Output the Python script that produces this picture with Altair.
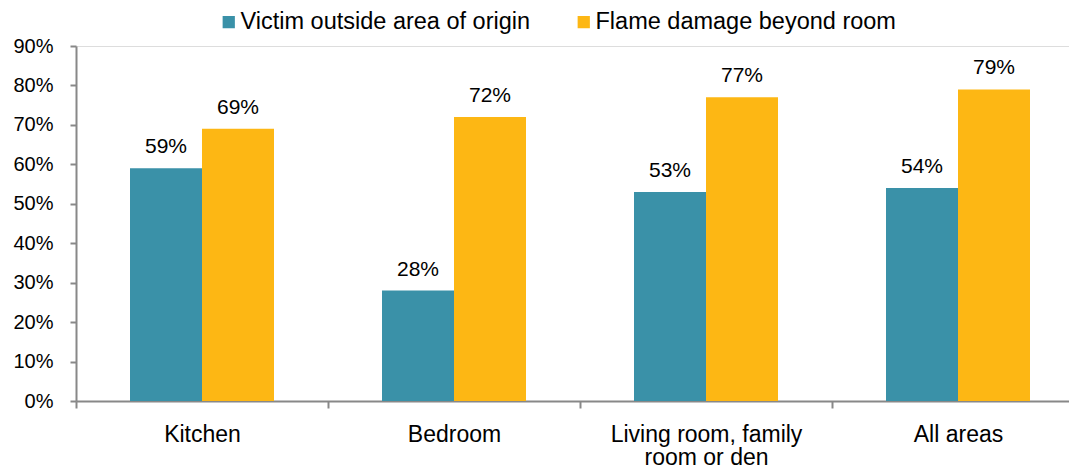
import altair as alt
import pandas as pd

categories = ["Kitchen", "Bedroom", "Living room, family room or den", "All areas"]
series_names = ["Victim outside area of origin", "Flame damage beyond room"]
victim_outside = [59, 28, 53, 54]
flame_beyond = [69, 72, 77, 79]
colors = ["#3A91A8", "#FDB714"]
y_ticks = [0, 10, 20, 30, 40, 50, 60, 70, 80, 90]

rows = []
for i, c in enumerate(categories):
    rows.append({"area": c, "series": series_names[0], "value": victim_outside[i] / 100})
    rows.append({"area": c, "series": series_names[1], "value": flame_beyond[i] / 100})
df = pd.DataFrame(rows)

FONT = "Liberation Sans"

x_enc = alt.X(
    "area:N",
    sort=categories,
    title=None,
    scale=alt.Scale(paddingInner=0, paddingOuter=0, range=[0, 1008]),
    axis=alt.Axis(
        labelAngle=0,
        labelFontSize=23,
        labelFont=FONT,
        labelColor="#000000",
        labelPadding=15,
        tickBand="extent",
        tickSize=7,
        tickColor="#888888",
        domainColor="#888888",
        domainWidth=2,
        tickWidth=2,
        labelLimit=300,
        labelLineHeight=23,
        labelOverlap=False,
        labelExpr="datum.label == 'Living room, family room or den' ? ['Living room, family', 'room or den'] : datum.label",
    ),
)
xoff = alt.XOffset("series:N", sort=series_names, scale=alt.Scale(paddingInner=0, paddingOuter=0.75))
y_enc = alt.Y(
    "value:Q",
    title=None,
    scale=alt.Scale(domain=[0, 0.9]),
    axis=alt.Axis(
        format=".0%",
        values=[v / 100 for v in y_ticks],
        grid=False,
        labelFontSize=20,
        labelFont=FONT,
        labelColor="#000000",
        labelPadding=17,
        labelOverlap=False,
        labelFlush=False,
        tickSize=6,
        tickColor="#888888",
        domainColor="#888888",
        domainWidth=2,
        tickWidth=2,
    ),
)

color_enc = alt.Color(
    "series:N",
    sort=series_names,
    scale=alt.Scale(domain=series_names, range=colors),
    legend=alt.Legend(
        title=None,
        orient="none",
        legendX=141,
        legendY=-36,
        direction="horizontal",
        symbolType="square",
        symbolSize=150,
        symbolStrokeWidth=0,
        labelFontSize=23.5,
        labelFont=FONT,
        labelColor="#000000",
        labelOffset=0,
        columnPadding=41,
        labelLimit=400,
    ),
)

base = alt.Chart(df).encode(x=x_enc, xOffset=xoff, y=y_enc)

bars = base.mark_bar(strokeWidth=0).encode(color=color_enc)
labels = base.mark_text(
    baseline="alphabetic", dy=-15, fontSize=21, font=FONT, color="#000000"
).encode(text=alt.Text("value:Q", format=".0%"))

chart = (
    alt.layer(bars, labels)
    .properties(
        width=993,
        height=355,
        autosize=alt.AutoSizeParams(type="none"),
        padding={"left": 68, "top": 38, "right": 0, "bottom": 66},
    )
    .configure_view(stroke=None)
    .configure(background="white")
)

chart.save("out.html", embed_options={"renderer": "svg", "actions": False})
